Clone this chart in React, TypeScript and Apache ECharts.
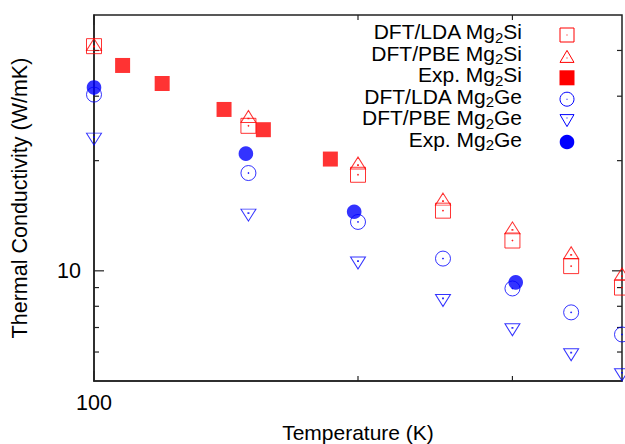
import { useEffect, useRef } from 'react';
import * as echarts from 'echarts';

// ---- data ----
const temperatures = [100, 150, 200, 250, 300, 350, 400];
const ldaMg2Si = [41.1, 24.9, 18.3, 14.6, 12.1, 10.3, 9.0];
const pbeMg2Si = [41.5, 26.4, 19.7, 15.7, 13.1, 11.2, 9.8];
const expMg2SiT = [107.8, 119.6, 140.7, 156, 186];
const expMg2Si = [36.4, 32.5, 27.6, 24.3, 20.2];
const ldaMg2Ge = [30.3, 18.5, 13.6, 10.8, 8.95, 7.7, 6.7];
const pbeMg2Ge = [22.9, 14.2, 10.5, 8.3, 6.9, 5.9, 5.2];
const expMg2GeT = [100, 149, 198, 302.6];
const expMg2Ge = [31.7, 20.9, 14.5, 9.3];

const xMajorTicks = [100];
const xMinorTicks = [200, 300];
const yMajorTicks = [10];
const yMinorTicks = [6, 7, 8, 9, 20, 30, 40];

const legendEntries = [
  { name: 'DFT/LDA Mg2Si', pre: 'DFT/LDA Mg', post: 'Si' },
  { name: 'DFT/PBE Mg2Si', pre: 'DFT/PBE Mg', post: 'Si' },
  { name: 'Exp. Mg2Si', pre: 'Exp. Mg', post: 'Si' },
  { name: 'DFT/LDA Mg2Ge', pre: 'DFT/LDA Mg', post: 'Ge' },
  { name: 'DFT/PBE Mg2Ge', pre: 'DFT/PBE Mg', post: 'Ge' },
  { name: 'Exp. Mg2Ge', pre: 'Exp. Mg', post: 'Ge' },
];

const RED = '#ff0000';
const BLUE = '#0000ff';
const FRAME = '#222222';
const FONT = '"Liberation Sans", Arial, Helvetica, sans-serif';

const SQ_OPEN = 'path://M0,0H14V14H0Z M6.6,6.6H7.4V7.4H6.6Z';
const TRI_UP = 'path://M7,0L14,12H0Z M6.6,7.6H7.4V8.4H6.6Z';
const TRI_DOWN = 'path://M0,0H14L7,12Z M6.6,3.6H7.4V4.4H6.6Z';
const CIRC_OPEN = 'path://M0,7A7,7 0 1 1 14,7A7,7 0 1 1 0,7Z M6.6,6.6H7.4V7.4H6.6Z';

const zip = (xs: number[], ys: number[]) => xs.map((x, i) => [x, ys[i]]);

const openItem = (color: string) => ({ color: 'rgba(0,0,0,0)', borderColor: color, borderWidth: 1 });

function yTickRender(len: number) {
  return (params: any, api: any) => {
    const p = api.coord([api.value(0), api.value(1)]);
    const cs = params.coordSys;
    const l = cs.x;
    const r = cs.x + cs.width;
    const st = { stroke: FRAME, lineWidth: 1.2 };
    return {
      type: 'group',
      children: [
        { type: 'line', shape: { x1: l, y1: p[1], x2: l + len, y2: p[1] }, style: st },
        { type: 'line', shape: { x1: r - len, y1: p[1], x2: r, y2: p[1] }, style: st },
      ],
    };
  };
}

function xTickRender(len: number) {
  return (params: any, api: any) => {
    const p = api.coord([api.value(0), api.value(1)]);
    const cs = params.coordSys;
    const t = cs.y;
    const b = cs.y + cs.height;
    const st = { stroke: FRAME, lineWidth: 1.2 };
    return {
      type: 'group',
      children: [
        { type: 'line', shape: { x1: p[0], y1: b, x2: p[0], y2: b - len }, style: st },
        { type: 'line', shape: { x1: p[0], y1: t, x2: p[0], y2: t + len }, style: st },
      ],
    };
  };
}

function legendMarker(i: number, cx: number, cy: number): any[] {
  const dot = (c: string) => ({ type: 'rect', shape: { x: cx - 0.5, y: cy - 0.5, width: 1, height: 1 }, style: { fill: c } });
  switch (i) {
    case 0:
      return [
        { type: 'rect', shape: { x: cx - 7, y: cy - 7, width: 14, height: 14 }, style: { fill: 'none', stroke: RED, lineWidth: 1 } },
        dot(RED),
      ];
    case 1:
      return [
        { type: 'polygon', shape: { points: [[cx, cy - 6], [cx + 7, cy + 6], [cx - 7, cy + 6]] }, style: { fill: 'none', stroke: RED, lineWidth: 1 } },
        { type: 'rect', shape: { x: cx - 0.5, y: cy + 1, width: 1, height: 1 }, style: { fill: RED } },
      ];
    case 2:
      return [{ type: 'rect', shape: { x: cx - 7.5, y: cy - 7.5, width: 15, height: 15 }, style: { fill: RED } }];
    case 3:
      return [
        { type: 'circle', shape: { cx, cy, r: 7 }, style: { fill: 'none', stroke: BLUE, lineWidth: 1 } },
        dot(BLUE),
      ];
    case 4:
      return [
        { type: 'polygon', shape: { points: [[cx - 7, cy - 6], [cx + 7, cy - 6], [cx, cy + 6]] }, style: { fill: 'none', stroke: BLUE, lineWidth: 1 } },
        { type: 'rect', shape: { x: cx - 0.5, y: cy - 3, width: 1, height: 1 }, style: { fill: BLUE } },
      ];
    default:
      return [{ type: 'circle', shape: { cx, cy, r: 7.3 }, style: { fill: BLUE } }];
  }
}

function buildLegend(): any[] {
  const els: any[] = [];
  legendEntries.forEach((e, i) => {
    const ty = 31.5 + i * 21.5;
    const my = 35 + i * 21.4;
    els.push({
      type: 'text',
      x: 522,
      y: ty,
      silent: true,
      style: {
        text: `{a|${e.pre}}{s|2}{a|${e.post}}`,
        align: 'right',
        verticalAlign: 'middle',
        fill: '#000',
        fontSize: 21,
        fontFamily: FONT,
        lineHeight: 18,
        rich: {
          a: { fontSize: 21, fontFamily: FONT, fill: '#000', verticalAlign: 'middle', lineHeight: 18 },
          s: { fontSize: 15, fontFamily: FONT, fill: '#000', verticalAlign: 'middle', lineHeight: 16, padding: [11, 0, 0, 0] },
        },
      },
    });
    legendMarker(i, 567, my).forEach((m) => els.push({ ...m, silent: true }));
  });
  return els;
}

export default function App() {
  const ref = useRef<HTMLDivElement>(null);
  useEffect(() => {
    if (!ref.current) return;
    const chart = echarts.init(ref.current, null, { renderer: 'svg' });
    const option: any = {
      animation: false,
      backgroundColor: '#ffffff',
      textStyle: { fontFamily: FONT },
      grid: {
        left: 94,
        right: 3,
        top: 15,
        bottom: 63,
        show: true,
        borderColor: FRAME,
        borderWidth: 1.5,
        backgroundColor: 'rgba(0,0,0,0)',
        containLabel: false,
        outerBoundsMode: 'none',
      },
      xAxis: {
        type: 'log',
        logBase: 10,
        min: 100,
        max: 400,
        name: 'Temperature (K)',
        nameLocation: 'middle',
        nameGap: 41,
        nameTextStyle: { fontSize: 21, color: '#000', fontFamily: FONT },
        axisLine: { show: true, lineStyle: { color: FRAME, width: 1.5 } },
        axisTick: { show: false },
        splitLine: { show: false },
        minorTick: { show: false },
        axisLabel: {
          fontSize: 21.5,
          color: '#000',
          fontFamily: FONT,
          margin: 11,
          formatter: (v: number) => (Math.abs(v - 100) < 1e-6 ? '100' : ''),
        },
      },
      yAxis: {
        type: 'log',
        logBase: 10,
        min: 5,
        max: 50,
        name: 'Thermal Conductivity (W/mK)',
        nameLocation: 'middle',
        nameGap: 63,
        nameTextStyle: { fontSize: 21.5, color: '#000', fontFamily: FONT },
        axisLine: { show: true, lineStyle: { color: FRAME, width: 1.5 } },
        axisTick: { show: false },
        splitLine: { show: false },
        minorTick: { show: false },
        axisLabel: {
          fontSize: 21.5,
          color: '#000',
          fontFamily: FONT,
          margin: 13,
          formatter: (v: number) => (Math.abs(v - 10) < 1e-6 ? '10' : ''),
        },
      },
      series: [
        { type: 'custom', name: 'yMajor', silent: true, z: 1, clip: false, renderItem: yTickRender(10), data: yMajorTicks.map((v) => [100, v]) },
        { type: 'custom', name: 'yMinor', silent: true, z: 1, clip: false, renderItem: yTickRender(5), data: yMinorTicks.map((v) => [100, v]) },
        { type: 'custom', name: 'xMajor', silent: true, z: 1, clip: false, renderItem: xTickRender(10), data: xMajorTicks.map((v) => [v, 5]) },
        { type: 'custom', name: 'xMinor', silent: true, z: 1, clip: false, renderItem: xTickRender(5), data: xMinorTicks.map((v) => [v, 5]) },
        {
          type: 'scatter', name: legendEntries[0].name, clip: false, z: 3,
          symbol: SQ_OPEN, symbolSize: 15, itemStyle: openItem(RED),
          data: zip(temperatures, ldaMg2Si),
        },
        {
          type: 'scatter', name: legendEntries[1].name, clip: false, z: 3,
          symbol: TRI_UP, symbolSize: [15, 12], itemStyle: openItem(RED),
          data: zip(temperatures, pbeMg2Si),
        },
        {
          type: 'scatter', name: legendEntries[2].name, clip: false, z: 3,
          symbol: 'rect', symbolSize: 15, itemStyle: { color: RED },
          data: zip(expMg2SiT, expMg2Si),
        },
        {
          type: 'scatter', name: legendEntries[3].name, clip: false, z: 3,
          symbol: CIRC_OPEN, symbolSize: 15, itemStyle: openItem(BLUE),
          data: zip(temperatures, ldaMg2Ge),
        },
        {
          type: 'scatter', name: legendEntries[4].name, clip: false, z: 3,
          symbol: TRI_DOWN, symbolSize: [15, 12], itemStyle: openItem(BLUE),
          data: zip(temperatures, pbeMg2Ge),
        },
        {
          type: 'scatter', name: legendEntries[5].name, clip: false, z: 3,
          symbol: 'circle', symbolSize: 14.6, itemStyle: { color: BLUE },
          data: zip(expMg2GeT, expMg2Ge),
        },
      ],
      graphic: buildLegend(),
    };
    chart.setOption(option);
    return () => chart.dispose();
  }, []);
  return (
    <div
      ref={ref}
      style={{ position: 'absolute', left: 0, top: 0, width: 625, height: 444, background: '#fff' }}
    />
  );
}
